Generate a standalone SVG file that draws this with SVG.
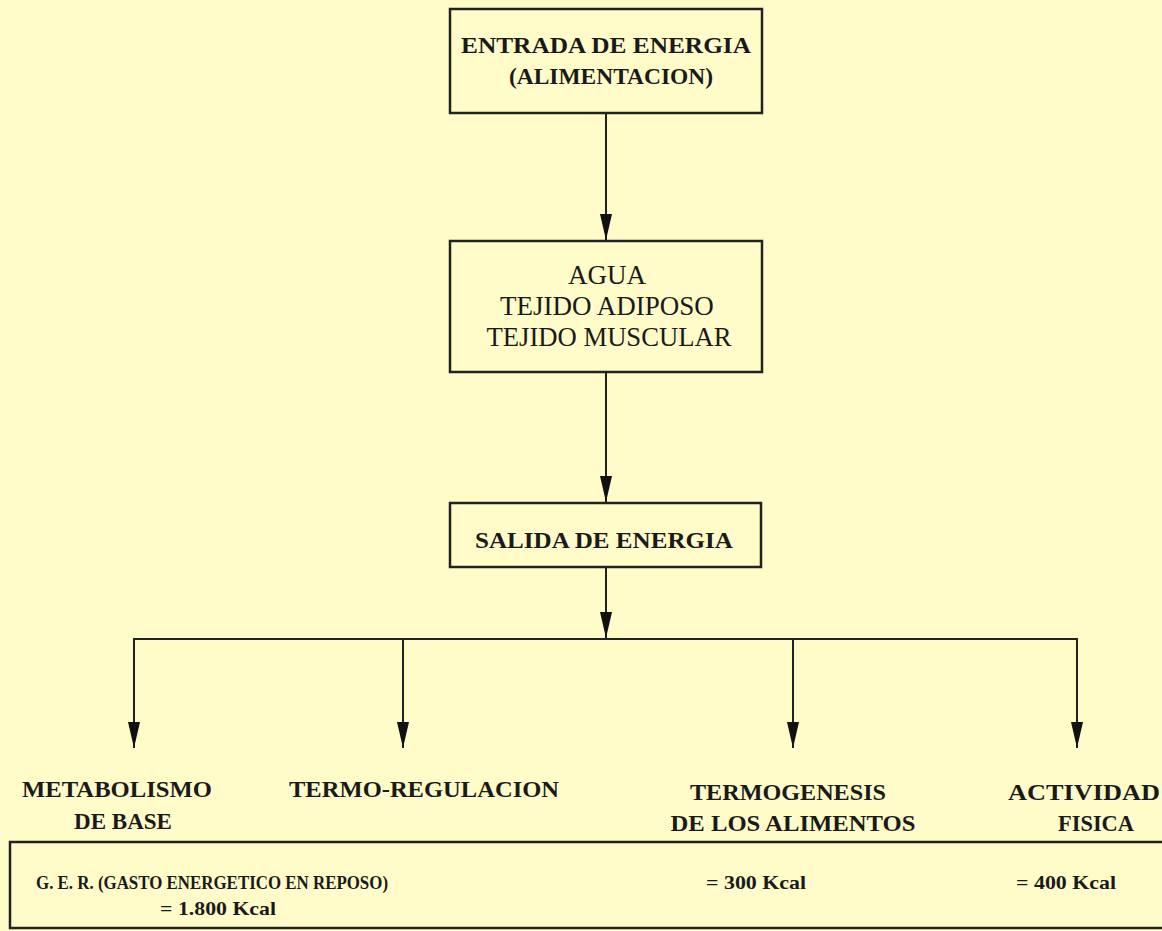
<svg xmlns="http://www.w3.org/2000/svg" width="1162" height="931" viewBox="0 0 1162 931">
<defs>
<style>
.bg{fill:#FFFCC9}
.box{fill:none;stroke:#222;stroke-width:2.5}
.ln{fill:none;stroke:#222;stroke-width:2}
.b{font-family:"Liberation Serif","Times New Roman",serif;font-weight:bold;fill:#1a1a1a;text-anchor:middle}
.r{font-family:"Liberation Serif","Times New Roman",serif;fill:#1a1a1a;text-anchor:middle}
.s{font-family:"Liberation Serif","Times New Roman",serif;font-weight:bold;fill:#1a1a1a;font-size:19px}
</style>
<marker id="ah" markerUnits="userSpaceOnUse" markerWidth="26" markerHeight="12" viewBox="0 0 26 12" refX="26" refY="6" orient="auto">
<path d="M0,0 L26,6 L0,12 Z" fill="#111"/>
</marker>
</defs>
<rect class="bg" x="0" y="0" width="1162" height="931"/>
<g id="connectors">
<line class="ln" x1="606" y1="113" x2="606" y2="240" marker-end="url(#ah)"/>
<line class="ln" x1="606" y1="372" x2="606" y2="502" marker-end="url(#ah)"/>
<line class="ln" x1="606" y1="567" x2="606" y2="638" marker-end="url(#ah)"/>
<polyline class="ln" points="134,700 134,639 1077,639 1077,700"/>
<line class="ln" x1="134" y1="639" x2="134" y2="748" marker-end="url(#ah)"/>
<line class="ln" x1="403" y1="639" x2="403" y2="748" marker-end="url(#ah)"/>
<line class="ln" x1="793" y1="639" x2="793" y2="748" marker-end="url(#ah)"/>
<line class="ln" x1="1077" y1="639" x2="1077" y2="748" marker-end="url(#ah)"/>
</g>
<g id="entrada">
<rect class="box" x="450" y="9" width="312" height="104"/>
<text class="b" x="606" y="53" font-size="23" textLength="290" lengthAdjust="spacingAndGlyphs">ENTRADA DE ENERGIA</text>
<text class="b" x="611" y="84" font-size="23" textLength="204" lengthAdjust="spacingAndGlyphs">(ALIMENTACION)</text>
</g>
<g id="tejidos">
<rect class="box" x="450" y="241" width="312" height="131"/>
<text class="r" x="607" y="284" font-size="27">AGUA</text>
<text class="r" x="607" y="315" font-size="27">TEJIDO ADIPOSO</text>
<text class="r" x="609" y="346" font-size="27" textLength="245" lengthAdjust="spacingAndGlyphs">TEJIDO MUSCULAR</text>
</g>
<g id="salida">
<rect class="box" x="450" y="503" width="311" height="64"/>
<text class="b" x="604" y="548" font-size="23" textLength="258" lengthAdjust="spacingAndGlyphs">SALIDA DE ENERGIA</text>
</g>
<g id="metabolismo">
<text class="b" x="117" y="797" font-size="24" textLength="190" lengthAdjust="spacingAndGlyphs">METABOLISMO</text>
<text class="b" x="123" y="829" font-size="24" textLength="98" lengthAdjust="spacingAndGlyphs">DE BASE</text>
</g>
<g id="termorregulacion">
<text class="b" x="424" y="797" font-size="24" textLength="270" lengthAdjust="spacingAndGlyphs">TERMO-REGULACION</text>
</g>
<g id="termogenesis">
<text class="b" x="788" y="800" font-size="24" textLength="196" lengthAdjust="spacingAndGlyphs">TERMOGENESIS</text>
<text class="b" x="793" y="831" font-size="24" textLength="245" lengthAdjust="spacingAndGlyphs">DE LOS ALIMENTOS</text>
</g>
<g id="actividad">
<text class="b" x="1084" y="800" font-size="24" textLength="152" lengthAdjust="spacingAndGlyphs">ACTIVIDAD</text>
<text class="b" x="1096" y="831" font-size="24" textLength="76" lengthAdjust="spacingAndGlyphs">FISICA</text>
</g>
<g id="ger">
<rect class="box" x="10" y="842" width="1160" height="86"/>
<text class="s" x="36" y="889" textLength="352" lengthAdjust="spacingAndGlyphs">G. E. R. (GASTO ENERGETICO EN REPOSO)</text>
<text class="s" x="160" y="915" textLength="116" lengthAdjust="spacingAndGlyphs">= 1.800 Kcal</text>
<text class="s" x="706" y="889" textLength="100" lengthAdjust="spacingAndGlyphs">= 300 Kcal</text>
<text class="s" x="1016" y="889" textLength="100" lengthAdjust="spacingAndGlyphs">= 400 Kcal</text>
</g>
</svg>
